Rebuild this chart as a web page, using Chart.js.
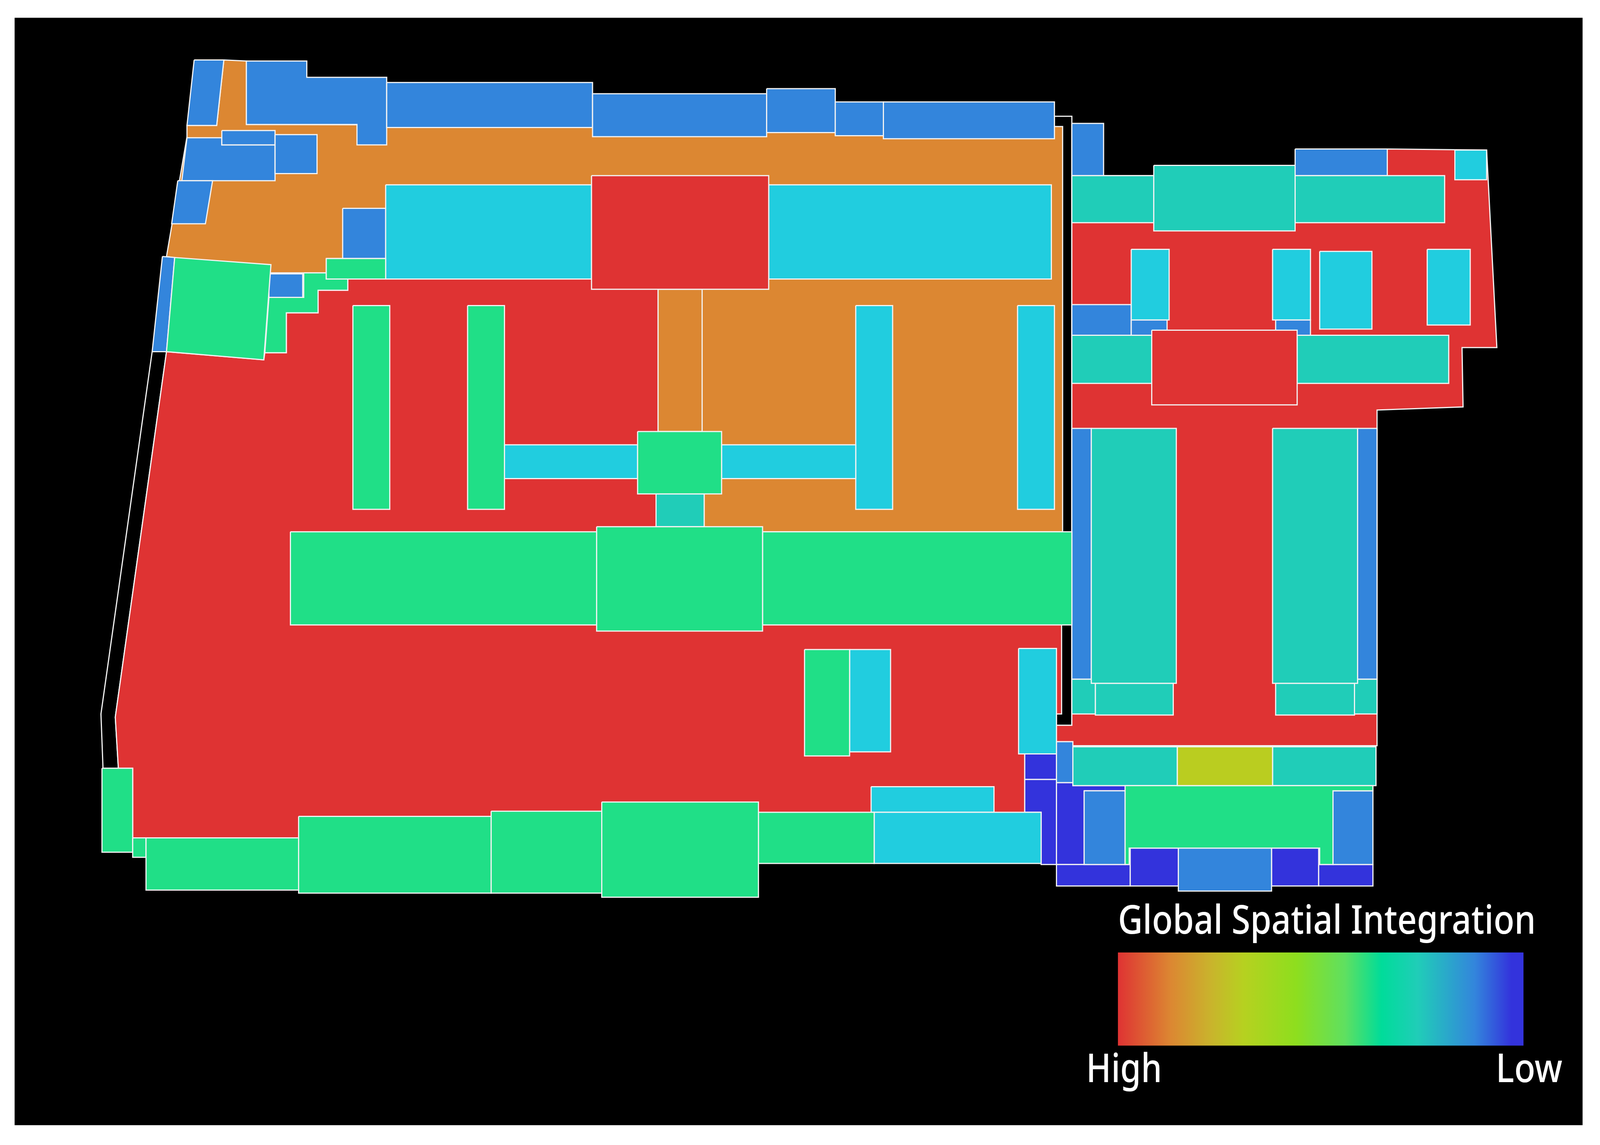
<!DOCTYPE html>
<html><head><meta charset="utf-8">
<style>html,body{margin:0;padding:0;background:#fff}canvas{display:block}</style>
<script src="https://cdn.jsdelivr.net/npm/chart.js@4/dist/chart.umd.min.js"></script>
</head><body><canvas id="c" width="4114" height="2932" style="width:4114px;height:2932px"></canvas>
<script>
// Integration levels -> colours of the spatial map
const levelColours = {
  frame:'#000000', void:'#000000', red:'#DF3333', orange:'#DC8732', olive:'#BACD20',
  green:'#20DF87', teal:'#20CDB8', cyan:'#21CDDF', blue:'#3385DC', indigo:'#3333DC'
};
const gradientStops = [[0,'#DF3333'],[0.13,'#DC8732'],[0.23,'#C9B42C'],[0.31,'#B6D120'],[0.44,'#8EDE1E'],[0.56,'#5FE060'],[0.65,'#00DC9A'],[0.74,'#20CDB8'],[0.88,'#3385DC'],[0.97,'#3333DC'],[1,'#3333DC']];

const planWidth = 1568, planHeight = 1117.5;
const frameOutline = [[13.7,16.8],[1544.7,16.8],[1544.7,1098.7],[13.7,1098.7]];
const legendBar = [[1091,930],[1487,930],[1487,1021],[1091,1021]];
const legendTexts = [
  {text:'Global Spatial Integration', x:1091, y:911.5, width:408, size:38.5},
  {text:'High', x:1060, y:1056.5, width:74, size:38.5},
  {text:'Low', x:1460, y:1056.5, width:65, size:38.5}
];

const voidBands = [
  [[148,343],[98,697],[100,750],[129,750],[115,750],[112,700],[162,343]],
  [[1029,113],[1046,113],[1046,708],[1031,708],[1031,600],[1029,600]]
];
const floorRed = [
  [[162,343],[112,700],[115,750],[129,750],[129,818],[291,818],[291,830],[1000,830],[1000,735],[1031,735],[1031,697],[1036,697],[1036,519],[660,519],[660,272],[339,272],[339,283],[310,283],[310,305],[279,305],[279,344],[258,344],[257,351]],
  [[1046,171],[1354,171],[1354,145],[1451,146],[1461,339],[1427,339],[1428,397],[1344,400],[1344,728],[1047,728],[1047,724],[1031,724],[1031,708],[1046,708]]
];
const floorOrange = [
  [[218,58],[240,59],[240,121],[1037,123],[1037,519],[687,519],[687,482],[685,421],[642,421],[642,272],[376,272],[376,252],[318,252],[318,266],[264,266],[162,250],[182,133],[182,122],[211,122]],
  [[642,282],[685,282],[685,421],[642,421]]
];
const indigoRooms = [
  [[1000,735],[1031,735],[1031,761],[1000,761]],
  [[1000,761],[1031,761],[1031,844],[1016,844],[1016,793],[1000,793]],
  [[1031,764],[1047,764],[1047,767],[1101,767],[1101,772],[1058,772],[1058,844],[1031,844]],
  [[1031,844],[1103,844],[1103,865],[1031,865]],
  [[1103,828],[1150,828],[1150,865],[1103,865]],
  [[1241,828],[1287,828],[1287,865],[1241,865]],
  [[1287,844],[1340,844],[1340,865],[1287,865]]
];
const blueRooms = [
  [[189,58],[218,58],[211,122],[182,122]],
  [[240,59],[299,59],[299,75],[377,75],[377,141],[348,141],[348,121],[240,121]],
  [[377,80],[578,80],[578,124],[377,124]],
  [[578,91],[748,91],[748,133],[578,133]],
  [[748,86],[815,86],[815,129],[748,129]],
  [[815,99],[862,99],[862,132],[815,132]],
  [[862,99],[1029,99],[1029,135],[862,135]],
  [[182,134],[216,134],[216,141],[268,141],[268,176],[177,176]],
  [[216,127],[268,127],[268,141],[216,141]],
  [[268,131],[309,131],[309,169],[268,169]],
  [[173,176],[207,176],[200,218],[167,218]],
  [[334,203],[376,203],[376,252],[334,252]],
  [[262,267],[295,267],[295,290],[262,290]],
  [[158,250],[170,251],[162,343],[148,343]],
  [[1046,120],[1077,120],[1077,171],[1046,171]],
  [[1264,145],[1354,145],[1354,171],[1264,171]],
  [[1046,297],[1104,297],[1104,327],[1046,327]],
  [[1104,312],[1139,312],[1139,327],[1104,327]],
  [[1245,312],[1279,312],[1279,327],[1245,327]],
  [[1046,418],[1065,418],[1065,663],[1046,663]],
  [[1325,418],[1344,418],[1344,663],[1325,663]],
  [[1031,724],[1047,724],[1047,764],[1031,764]],
  [[1058,772],[1098,772],[1098,844],[1058,844]],
  [[1301,772],[1340,772],[1340,844],[1301,844]],
  [[1150,828],[1241,828],[1241,870],[1150,870]]
];
const tealRooms = [
  [[640,482],[687,482],[687,514],[640,514]],
  [[1046,171],[1126,171],[1126,217],[1046,217]],
  [[1264,171],[1410,171],[1410,217],[1264,217]],
  [[1126,161],[1264,161],[1264,225],[1126,225]],
  [[1046,327],[1124,327],[1124,374],[1046,374]],
  [[1266,327],[1414,327],[1414,374],[1266,374]],
  [[1046,663],[1069,663],[1069,697],[1046,697]],
  [[1069,667],[1145,667],[1145,698],[1069,698]],
  [[1245,667],[1322,667],[1322,698],[1245,698]],
  [[1322,663],[1344,663],[1344,697],[1322,697]],
  [[1065,418],[1148,418],[1148,667],[1065,667]],
  [[1242,418],[1325,418],[1325,667],[1242,667]],
  [[1047,729],[1149,729],[1149,767],[1047,767]],
  [[1242,729],[1343,729],[1343,767],[1242,767]]
];
const cyanRooms = [
  [[376,180],[577,180],[577,272],[376,272]],
  [[750,180],[1026,180],[1026,272],[750,272]],
  [[835,298],[871,298],[871,497],[835,497]],
  [[993,298],[1029,298],[1029,497],[993,497]],
  [[492,434],[622,434],[622,467],[492,467]],
  [[704,434],[835,434],[835,467],[704,467]],
  [[829,634],[869,634],[869,734],[829,734]],
  [[994,633],[1031,633],[1031,736],[994,736]],
  [[850,768],[970,768],[970,793],[850,793]],
  [[853,793],[1016,793],[1016,843],[853,843]],
  [[1420,146],[1451,146],[1451,175],[1420,175]],
  [[1104,243],[1141,243],[1141,312],[1104,312]],
  [[1242,243],[1279,243],[1279,312],[1242,312]],
  [[1288,245],[1339,245],[1339,321],[1288,321]],
  [[1393,243],[1435,243],[1435,317],[1393,317]]
];
const greenRooms = [
  [[296,266],[318,266],[318,272],[339,272],[339,283],[310,283],[310,305],[279,305],[279,344],[258,344],[262,290],[296,290]],
  [[170,251],[264,258],[257,351],[162,343]],
  [[318,252],[376,252],[376,272],[318,272]],
  [[344,298],[380,298],[380,497],[344,497]],
  [[456,298],[492,298],[492,497],[456,497]],
  [[622,421],[704,421],[704,482],[622,482]],
  [[283,519],[582,519],[582,610],[283,610]],
  [[744,519],[1046,519],[1046,610],[744,610]],
  [[582,514],[744,514],[744,616],[582,616]],
  [[785,634],[829,634],[829,738],[785,738]],
  [[99,750],[129,750],[129,832],[99,832]],
  [[129,818],[142,818],[142,837],[129,837]],
  [[142,818],[291,818],[291,869],[142,869]],
  [[291,797],[479,797],[479,872],[291,872]],
  [[479,792],[587,792],[587,872],[479,872]],
  [[740,793],[853,793],[853,843],[740,843]],
  [[587,783],[740,783],[740,876],[587,876]],
  [[1098,767],[1340,767],[1340,772],[1301,772],[1301,844],[1288,844],[1288,828],[1102,828],[1102,844],[1098,844]]
];
const oliveRooms = [ [[1149,729],[1242,729],[1242,767],[1149,767]] ];
const redHalls = [
  [[577,171],[750,171],[750,282],[577,282]],
  [[1124,322],[1266,322],[1266,395],[1124,395]]
];

const layers = [
  ['void',voidBands],['red',floorRed],['orange',floorOrange],['indigo',indigoRooms],['blue',blueRooms],
  ['teal',tealRooms],['cyan',cyanRooms],['green',greenRooms],['olive',oliveRooms],['red',redHalls]
];
const toPts = p => p.concat([p[0]]).map(([x,y]) => ({x,y}));
const datasets = [];
datasets.push({label:'frame',data:toPts(frameOutline),backgroundColor:levelColours.frame,borderColor:levelColours.frame,borderWidth:0,fill:'shape',showLine:true,pointRadius:0});
layers.forEach(([lvl,polys]) => polys.forEach(p => datasets.push({
  label:lvl,data:toPts(p),backgroundColor:levelColours[lvl],borderColor:'#F2F2F2',borderWidth:3,fill:'shape',showLine:true,pointRadius:0,tension:0,borderJoinStyle:'miter'
})));
datasets.push({label:'legend',data:toPts(legendBar),borderWidth:0,borderColor:'rgba(0,0,0,0)',fill:'shape',showLine:true,pointRadius:0,
  backgroundColor(ctx){
    const c=ctx.chart, a=c.scales.x; if(!a) return '#888';
    const x0=a.getPixelForValue(legendBar[0][0]), x1=a.getPixelForValue(legendBar[1][0]);
    if(!isFinite(x0)||!isFinite(x1)) return '#888';
    const g=c.ctx.createLinearGradient(x0,0,x1,0);
    gradientStops.forEach(([o,col])=>g.addColorStop(o,col)); return g;
  }});

const textPlugin = {id:'texts',afterDatasetsDraw(chart){
  const {ctx,scales:{x,y}}=chart; const k=x.width/planWidth;
  ctx.save(); ctx.fillStyle='#FFFFFF'; ctx.textBaseline='alphabetic'; ctx.textAlign='left';
  legendTexts.forEach(t=>{ctx.font=`500 ${t.size*k}px "Noto Sans"`;ctx.fillText(t.text,x.getPixelForValue(t.x),y.getPixelForValue(t.y),t.width*k);});
  ctx.restore();
}};

const chart = new Chart(document.getElementById('c'),{
  type:'scatter',
  data:{datasets:datasets.reverse()},
  plugins:[textPlugin],
  options:{responsive:false,animation:false,devicePixelRatio:1,layout:{padding:0},
    plugins:{legend:{display:false},tooltip:{enabled:false},title:{display:false}},
    scales:{x:{type:'linear',min:0,max:planWidth,display:false},y:{type:'linear',min:0,max:planHeight,reverse:true,display:false}}}
});
chart.update('none');
</script></body></html>
